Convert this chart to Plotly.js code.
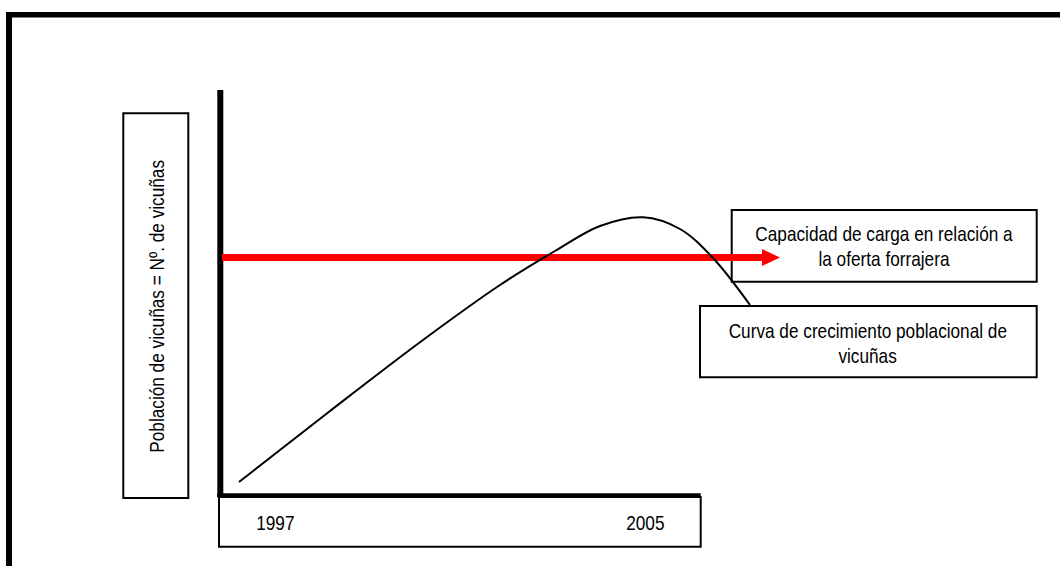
<!DOCTYPE html>
<html>
<head>
<meta charset="utf-8">
<script src="https://cdn.plot.ly/plotly-3.0.1.min.js"></script>
<style>html,body{margin:0;padding:0;background:#fff;}#chart{width:1060px;height:566px;}</style>
</head>
<body>
<div id="chart"></div>
<script>
// Population growth curve of vicuñas (diagram coordinates)
var curveX = [239, 330, 423, 500, 555, 600, 643, 680, 713, 750];
var curveY = [482, 411, 340, 285, 251, 226, 217.3, 229, 258, 305];

// Carrying capacity level (red arrow)
var capacityLevel = 257.5;
var capacityStart = 222;
var capacityEnd = 780;

// Axis tick labels
var tickLabels = ["1997", "2005"];
var tickPositions = [275, 645];

// Texts
var yAxisLabel = "Población de vicuñas = Nº. de vicuñas";
var capacityLabel = ["Capacidad de carga en relación a", "la oferta forrajera"];
var curveLabel = ["Curva de crecimiento poblacional de", "vicuñas"];

var FONT = "'Liberation Sans', Arial, sans-serif";
var FS = 21;
var NARROW = 0.82;

var shapes = [];
// outer frame (top + left)
shapes.push({type:'line', xref:'x', yref:'y', x0:6, x1:1060, y0:14.7, y1:14.7, line:{color:'#000', width:5.5}, layer:'below'});
shapes.push({type:'line', xref:'x', yref:'y', x0:9, x1:9, y0:12, y1:566, line:{color:'#000', width:6}, layer:'below'});
// thick axes
shapes.push({type:'line', xref:'x', yref:'y', x0:220.3, x1:220.3, y0:90, y1:497.3, line:{color:'#000', width:6}, layer:'below'});
shapes.push({type:'line', xref:'x', yref:'y', x0:217.3, x1:700.7, y0:495.3, y1:495.3, line:{color:'#000', width:4}, layer:'below'});
// y label box
shapes.push({type:'rect', xref:'x', yref:'y', x0:123.3, x1:188.3, y0:113.3, y1:498, line:{color:'#000', width:2}, fillcolor:'rgba(0,0,0,0)', layer:'below'});
// x label box
shapes.push({type:'rect', xref:'x', yref:'y', x0:219, x1:700.7, y0:497, y1:546.7, line:{color:'#000', width:2}, fillcolor:'rgba(0,0,0,0)', layer:'below'});
// capacity box
shapes.push({type:'rect', xref:'x', yref:'y', x0:731.7, x1:1036.7, y0:210, y1:281.7, line:{color:'#000', width:2}, fillcolor:'rgba(0,0,0,0)', layer:'below'});
// curve box
shapes.push({type:'rect', xref:'x', yref:'y', x0:700, x1:1036.7, y0:306, y1:377.3, line:{color:'#000', width:2}, fillcolor:'rgba(0,0,0,0)', layer:'below'});
// red arrow shaft + head
var headLen = 18, headHalf = 8.5;
shapes.push({type:'line', xref:'x', yref:'y', x0:capacityStart, x1:capacityEnd - headLen + 1, y0:capacityLevel, y1:capacityLevel, line:{color:'#ff0000', width:7}, layer:'below'});
shapes.push({type:'path', xref:'x', yref:'y',
  path:'M ' + (capacityEnd - headLen) + ' ' + (capacityLevel - headHalf) + ' L ' + capacityEnd + ' ' + capacityLevel + ' L ' + (capacityEnd - headLen) + ' ' + (capacityLevel + headHalf) + ' Z',
  fillcolor:'#ff0000', line:{color:'#ff0000', width:0}, layer:'below'});

var annotations = [];
annotations.push({xref:'x', yref:'y', x:156.5, y:306.5, text:yAxisLabel, textangle:-90, showarrow:false, font:{family:FONT, size:FS, color:'#000'}, xanchor:'center', yanchor:'middle'});
for (var i = 0; i < tickLabels.length; i++) {
  annotations.push({xref:'x', yref:'y', x:tickPositions[i], y:522, text:tickLabels[i], showarrow:false, font:{family:FONT, size:FS, color:'#000'}, xanchor:'center', yanchor:'middle'});
}
annotations.push({xref:'x', yref:'y', x:884.2, y:233, text:capacityLabel[0], showarrow:false, font:{family:FONT, size:FS, color:'#000'}, xanchor:'center', yanchor:'middle'});
annotations.push({xref:'x', yref:'y', x:884.2, y:258, text:capacityLabel[1], showarrow:false, font:{family:FONT, size:FS, color:'#000'}, xanchor:'center', yanchor:'middle'});
annotations.push({xref:'x', yref:'y', x:867.5, y:330, text:curveLabel[0], showarrow:false, font:{family:FONT, size:FS, color:'#000'}, xanchor:'center', yanchor:'middle'});
annotations.push({xref:'x', yref:'y', x:867.5, y:355, text:curveLabel[1], showarrow:false, font:{family:FONT, size:FS, color:'#000'}, xanchor:'center', yanchor:'middle'});

var traces = [{
  x: curveX, y: curveY, type:'scatter', mode:'lines',
  line:{color:'#000', width:2, shape:'spline', smoothing:1},
  hoverinfo:'skip', showlegend:false
}];

var layout = {
  width:1060, height:566,
  margin:{l:0, r:0, t:0, b:0, pad:0},
  paper_bgcolor:'#fff', plot_bgcolor:'#fff',
  xaxis:{range:[0,1060], visible:false, fixedrange:true},
  yaxis:{range:[566,0], visible:false, fixedrange:true},
  shapes:shapes, annotations:annotations, showlegend:false
};

// condense text horizontally to mimic the narrow typeface of the original
function narrowText() {
  var texts = document.querySelectorAll('#chart text.annotation-text');
  texts.forEach(function (t) {
    var x = parseFloat(t.getAttribute('x')) || 0;
    t.setAttribute('transform', 'translate(' + x + ',0) scale(' + NARROW + ',1) translate(' + (-x) + ',0)');
  });
}

Plotly.newPlot('chart', traces, layout, {displayModeBar:false, staticPlot:true}).then(narrowText);
</script>
</body>
</html>
